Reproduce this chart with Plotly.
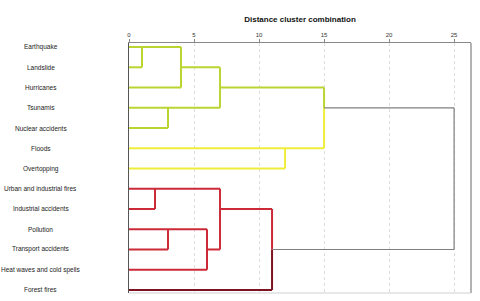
import plotly.graph_objects as go

leaves = ["Earthquake", "Landslide", "Hurricanes", "Tsunamis", "Nuclear accidents",
          "Floods", "Overtopping", "Urban and industrial fires", "Industrial accidents",
          "Pollution", "Transport accidents", "Heat waves and cold spells", "Forest fires"]
tick_vals = [0, 5, 10, 15, 20, 25]

# merge distances
d_eq_land = 1
d_eq_hurr = 4
d_tsu_nuc = 3
d_green = 7
d_flood_over = 12
d_green_yellow = 15
d_urb_ind = 2
d_pol_tra = 3
d_pol_heat = 6
d_red = 7
d_red_forest = 11
d_root = 25

GREEN = "#b9d531"
YELLOW = "#eeee3a"
RED = "#cc2a37"
DARK = "#7d1222"
GRAY = "#7f7f7f"

# segments: (x0, y0, x1, y1, color, width)
segs = [
    (0, 0, d_eq_hurr, 0, GREEN, 2),
    (0, 1, d_eq_land, 1, GREEN, 2),
    (d_eq_land, 0, d_eq_land, 1, GREEN, 2),
    (d_eq_hurr, 0, d_eq_hurr, 2, GREEN, 2),
    (0, 2, d_eq_hurr, 2, GREEN, 2),
    (d_eq_hurr, 1, d_green, 1, GREEN, 2),
    (d_green, 1, d_green, 3, GREEN, 2),
    (0, 3, d_green, 3, GREEN, 2),
    (0, 4, d_tsu_nuc, 4, GREEN, 2),
    (d_tsu_nuc, 3, d_tsu_nuc, 4, GREEN, 2),
    (d_green, 2, d_green_yellow, 2, GREEN, 2),
    (d_green_yellow, 2, d_green_yellow, 3, GREEN, 2),
    (d_green_yellow, 3, d_green_yellow, 5, YELLOW, 2),
    (0, 5, d_green_yellow, 5, YELLOW, 2),
    (0, 6, d_flood_over, 6, YELLOW, 2),
    (d_flood_over, 5, d_flood_over, 6, YELLOW, 2),
    (0, 7, d_red, 7, RED, 2),
    (0, 8, d_urb_ind, 8, RED, 2),
    (d_urb_ind, 7, d_urb_ind, 8, RED, 2),
    (0, 9, d_pol_heat, 9, RED, 2),
    (0, 10, d_pol_tra, 10, RED, 2),
    (d_pol_tra, 9, d_pol_tra, 10, RED, 2),
    (d_pol_heat, 9, d_pol_heat, 11, RED, 2),
    (0, 11, d_pol_heat, 11, RED, 2),
    (d_pol_heat, 10, d_red, 10, RED, 2),
    (d_red, 7, d_red, 10, RED, 2),
    (d_red, 8, d_red_forest, 8, RED, 2),
    (d_red_forest, 8, d_red_forest, 10, RED, 2),
    (d_red_forest, 10, d_red_forest, 12, DARK, 2),
    (0, 12, d_red_forest, 12, DARK, 2),
    (d_red_forest, 10, d_root, 10, GRAY, 1.2),
    (d_root, 3, d_root, 10, GRAY, 1.2),
    (d_green_yellow, 3, d_root, 3, GRAY, 1.2),
]

fig = go.Figure()
for x0, y0, x1, y1, c, w in segs:
    fig.add_trace(go.Scatter(x=[x0, x1], y=[y0, y1], mode="lines",
                             line=dict(color=c, width=w), hoverinfo="skip",
                             showlegend=False))

for i, name in enumerate(leaves):
    fig.add_annotation(x=-0.258, xref="paper", y=i, yref="y", text=name,
                       showarrow=False, xanchor="center", yanchor="middle",
                       font=dict(size=6.5, color="#222", family="Liberation Sans, Arial"))

fig.update_layout(
    width=480, height=301,
    margin=dict(l=129, r=9, t=43, b=8),
    paper_bgcolor="white", plot_bgcolor="white",
    title=dict(text="<b>Distance cluster combination</b>", x=0.5, xref="paper",
               xanchor="center", y=0.937, yanchor="middle",
               font=dict(size=8, color="#111", family="Liberation Sans, Arial")),
    xaxis=dict(range=[0, 26.3], side="top", tickvals=tick_vals,
               ticktext=[str(v) for v in tick_vals], ticks="outside", ticklen=3,
               tickcolor="#888", showline=True, linecolor="#888", linewidth=1,
               showgrid=True, gridcolor="#dcdcdc", griddash="dot", gridwidth=1,
               zeroline=False, tickfont=dict(size=6, color="#333",
                                              family="Liberation Sans, Arial")),
    yaxis=dict(range=[12.15, -0.2], showticklabels=False, showgrid=False,
               zeroline=False, showline=True, linecolor="#555", linewidth=1),
    shapes=[
        dict(type="line", xref="paper", yref="paper", x0=1, x1=1, y0=0, y1=1,
             line=dict(color="#9a9a9a", width=1.5)),
        dict(type="line", xref="paper", yref="paper", x0=0, x1=1, y0=0, y1=0,
             line=dict(color="#cfcfcf", width=1)),
    ],
)

fig.write_html("out.html", config={"displayModeBar": False},
               post_script="document.body.style.margin='0';document.body.style.overflow='hidden';")
